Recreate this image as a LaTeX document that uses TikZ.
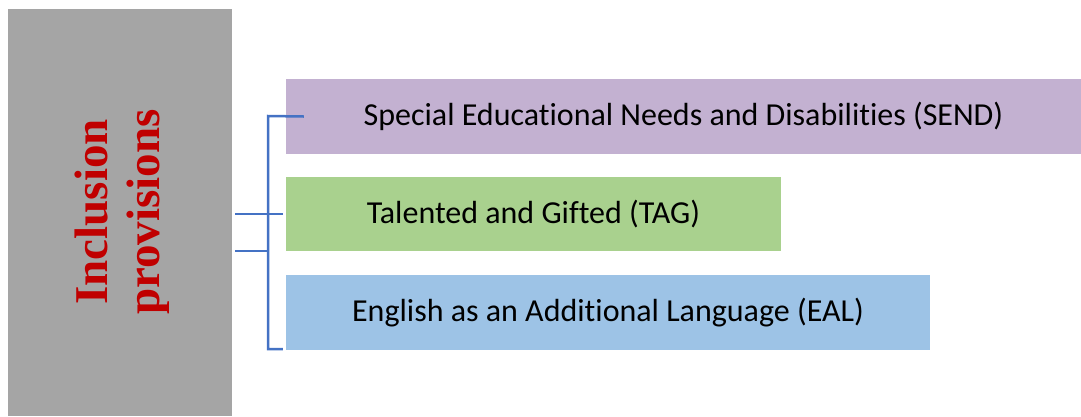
\documentclass[tikz,border=0pt]{standalone}
\usepackage{fontspec}
\setmainfont[Ligatures={NoCommon}]{Carlito}
\newfontfamily\titlefont{Liberation Serif}
\usetikzlibrary{positioning}
\definecolor{boxgrey}{HTML}{A5A5A5}
\definecolor{sendpurple}{HTML}{C3B1D1}
\definecolor{taggreen}{HTML}{A9D18E}
\definecolor{ealblue}{HTML}{9DC3E6}
\definecolor{linkblue}{HTML}{4472C4}
\definecolor{titlered}{HTML}{C00000}

\begin{document}
\begin{tikzpicture}[x=1pt, y=-1pt]

	\tikzstyle{side}=[fill=boxgrey, minimum width=224pt, minimum height=407pt, inner sep=0pt]
	\tikzstyle{provision}=[minimum height=75pt, inner sep=0pt, font=\fontsize{32}{38}\selectfont]
	\tikzstyle{link}=[draw=linkblue, line width=2.5pt]

	\useasboundingbox (0,0) rectangle (1081,416);

	% placement des noeuds
	\node[side] (incl) at (120,212.5) {};
	\node[rotate=90, align=center, text=titlered, font=\titlefont\bfseries\fontsize{47}{52}\selectfont] (title) at (122,212) {Inclusion\\provisions};

	\node[provision, fill=sendpurple, minimum width=795pt] (send) at (683.5,116.5) {Special Educational Needs and Disabilities (SEND)};
	\node[provision, fill=taggreen, minimum width=495pt, minimum height=74pt] (tag) at (533.5,214) {Talented and Gifted (TAG)};
	\node[provision, fill=ealblue, minimum width=644pt] (eal) at (608,312.5) {English as an Additional Language (EAL)};

	% crochet
	\coordinate (top) at (268,116);
	\draw[link] ([xshift=18pt]send.west) -- (top) |- ([xshift=-3pt]eal.west |- 0,349);
	\draw[link] ([xshift=3pt]incl.east |- tag.west) -- ([xshift=-3pt]tag.west);
	\draw[link, line width=2pt] ([xshift=3pt]incl.east |- tag.south) -- (top |- tag.south);

\end{tikzpicture}
\end{document}
